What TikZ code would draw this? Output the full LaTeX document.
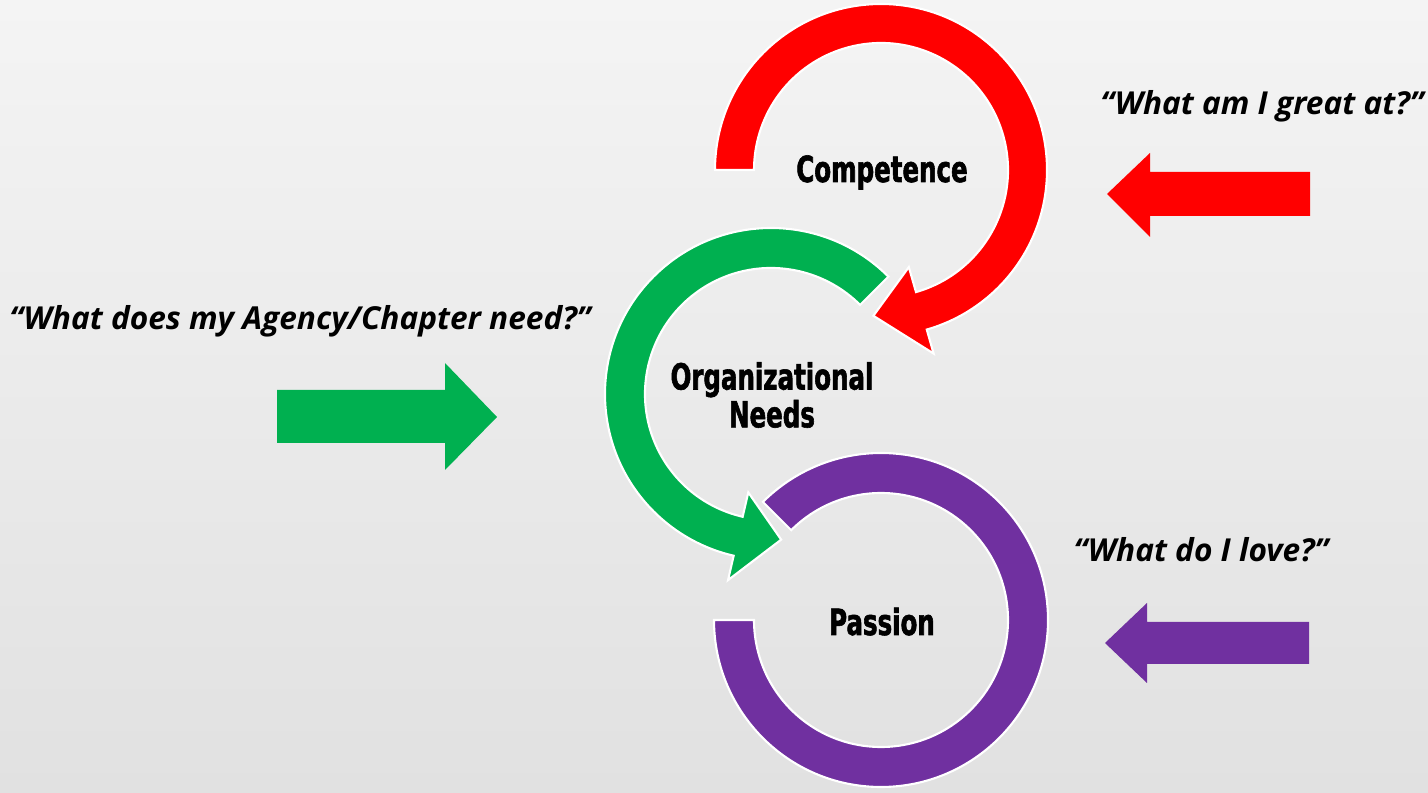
\documentclass[tikz,border=0pt]{standalone}
\usepackage{fontspec}
\setmainfont{Open Sans}
\newfontfamily\labelfont{DejaVu Sans}[FakeStretch=0.68,FakeBold=1.6]
\usetikzlibrary{calc,positioning}
\definecolor{cred}{RGB}{255,0,0}
\definecolor{cgreen}{RGB}{0,176,80}
\definecolor{cpurple}{RGB}{112,48,160}
\tikzset{
	ring/.style={draw=white,line width=1.2pt,line join=miter},
	cyc/.style={font=\labelfont\bfseries\fontsize{20.5}{21.5}\selectfont,align=center,inner sep=0pt},
	ask/.style={font=\bfseries\itshape\fontsize{18}{20}\selectfont,inner sep=0pt,anchor=base},
	blk/.style={line join=round}
}

\begin{document}
\begin{tikzpicture}[x=0.02cm,y=0.02cm]
	\shade[top color={rgb,255:red,244;green,244;blue,244},bottom color={rgb,255:red,225;green,225;blue,225}] (0,0) rectangle (1428,-793);
	\useasboundingbox (0,0) rectangle (1428,-793);
	% centres of the three rings
	\coordinate (pc) at (881,-620);
	\coordinate (gc) at (771,-394);
	\coordinate (rc) at (881,-170);
	% passion
	\path[fill=cpurple,ring] ($(pc)+(180:167)$) arc[start angle=180,end angle=495,radius=167]
		-- ($(pc)+(135:127)$) arc[start angle=495,end angle=180,radius=127] -- cycle;
	% organizational needs
	\path[fill=cgreen,ring] ($(gc)+(45:166)$) arc[start angle=45,end angle=257,radius=166]
		-- ($(gc)+(257:191)$) -- ($(gc)+(274:146)$) -- ($(gc)+(257:101)$)
		-- ($(gc)+(257:126)$) arc[start angle=257,end angle=45,radius=126] -- cycle;
	% competence
	\path[fill=cred,ring] ($(rc)+(180:166)$) arc[start angle=180,end angle=-74,radius=166]
		-- ($(rc)+(-74:191)$) -- ($(rc)+(-93:146)$) -- ($(rc)+(-74:101)$)
		-- ($(rc)+(-74:127)$) arc[start angle=-74,end angle=180,radius=127] -- cycle;
	\node[cyc,anchor=base] (comp) at (882,-182) {Competence};
	\node[cyc] (orgn) at (772,-395) {Organizational\\Needs};
	\node[cyc,anchor=base] (pass) at (882,-635) {Passion};
	% questions
	\node[ask] (qgreat) at (1262,-115) {“What am I great at?”};
	\node[ask] (qneed) at (300,-330) {“What does my Agency/Chapter need?”};
	\node[ask] (qlove) at (1201,-562) {“What do I love?”};
	% block arrows
	\coordinate (rtip) at (1107,-194);
	\fill[cred,blk] (rtip) -- ++(43,41) -- ++(0,-19) -- ++(160,0) -- ++(0,-44) -- ++(-160,0) -- ++(0,-21) -- cycle;
	\coordinate (gtip) at (497,-417);
	\fill[cgreen,blk] (gtip) -- ++(-52,54) -- ++(0,-27) -- ++(-168,0) -- ++(0,-53) -- ++(168,0) -- ++(0,-27) -- cycle;
	\coordinate (ptip) at (1105,-643);
	\fill[cpurple,blk] (ptip) -- ++(42,40) -- ++(0,-19) -- ++(162,0) -- ++(0,-42) -- ++(-162,0) -- ++(0,-19) -- cycle;
\end{tikzpicture}
\end{document}
